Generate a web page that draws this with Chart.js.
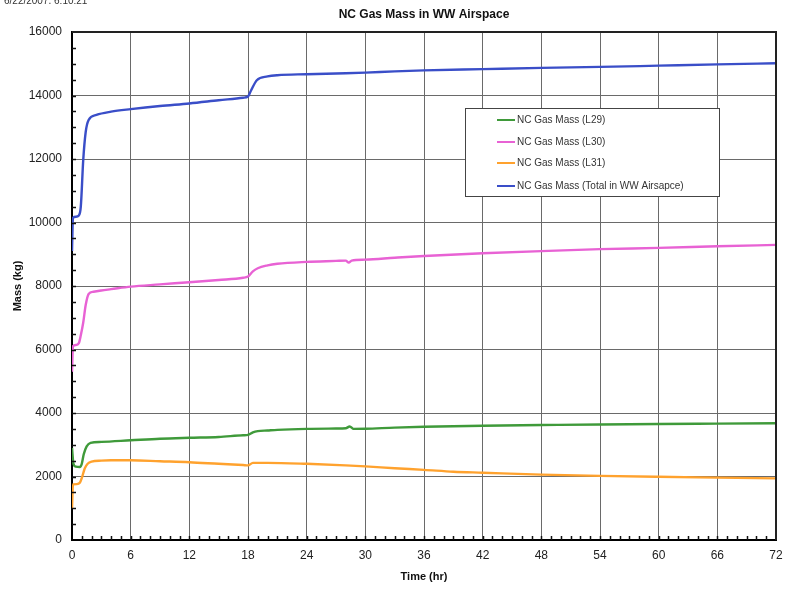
<!DOCTYPE html>
<html>
<head>
<meta charset="utf-8">
<script src="https://cdn.jsdelivr.net/npm/chart.js@4.4.1/dist/chart.umd.min.js"></script>
<style>
  html, body { margin: 0; padding: 0; background: #fff; }
  #wrap { width: 785px; height: 589px; position: relative; }
</style>
</head>
<body>
<div id="wrap"><canvas id="c" width="785" height="589"></canvas></div>
<script>
// ---- Data ----
const chartTitle = "NC Gas Mass in WW Airspace";
const stampText = "6/22/2007. 6:10:21";
const xTitle = "Time (hr)";
const yTitle = "Mass (kg)";
const xTicks = [0, 6, 12, 18, 24, 30, 36, 42, 48, 54, 60, 66, 72];
const yTicks = [0, 2000, 4000, 6000, 8000, 10000, 12000, 14000, 16000];

const labels = ["NC Gas Mass (L29)", "NC Gas Mass (L30)", "NC Gas Mass (L31)", "NC Gas Mass (Total in WW Airsapce)"];

const timeL29 = [0, 0.15, 0.4, 0.8, 1.0, 1.2, 1.5, 1.9, 3, 6, 9, 12, 15, 17.5, 18, 18.5, 19, 20, 21, 24, 27, 28, 28.4, 28.8, 30, 33, 36, 42, 48, 54, 60, 66, 72];
const massL29 = [2900, 2400, 2310, 2300, 2400, 2700, 2950, 3060, 3090, 3140, 3190, 3220, 3245, 3300, 3310, 3390, 3430, 3450, 3470, 3500, 3510, 3520, 3575, 3500, 3505, 3540, 3565, 3600, 3620, 3640, 3655, 3665, 3675];

const timeL30 = [0, 0.1, 0.4, 0.7, 0.9, 1.15, 1.4, 1.7, 2.2, 3, 4, 6, 9, 12, 15, 17.5, 18, 18.5, 19, 20, 21, 24, 27, 28, 28.3, 28.6, 30, 33, 36, 42, 48, 54, 60, 66, 72];
const massL30 = [5300, 6100, 6140, 6200, 6450, 6850, 7400, 7750, 7820, 7860, 7900, 7980, 8050, 8120, 8190, 8260, 8300, 8460, 8560, 8650, 8700, 8760, 8790, 8800, 8740, 8800, 8830, 8890, 8945, 9030, 9100, 9160, 9200, 9250, 9295];

const timeL31 = [0, 0.1, 0.5, 0.8, 1.0, 1.3, 1.6, 2, 3, 4, 6, 9, 12, 15, 17.5, 18, 18.5, 20, 24, 28, 30, 33, 36, 39, 42, 48, 54, 60, 66, 72];
const massL31 = [1000, 1750, 1760, 1800, 1950, 2250, 2400, 2470, 2500, 2510, 2510, 2480, 2450, 2400, 2360, 2350, 2430, 2430, 2400, 2350, 2320, 2260, 2210, 2150, 2120, 2060, 2020, 1990, 1965, 1940];

const timeTotal = [0, 0.1, 0.4, 0.7, 0.9, 1.15, 1.4, 1.7, 2.5, 4, 6, 9, 12, 15, 17.5, 18, 18.3, 18.9, 20, 21, 24, 28, 30, 33, 36, 42, 48, 54, 60, 66, 72];
const massTotal = [9100, 10150, 10180, 10220, 10500, 11970, 12850, 13230, 13390, 13490, 13570, 13670, 13750, 13850, 13930, 13970, 14150, 14480, 14600, 14640, 14670, 14700, 14720, 14760, 14790, 14830, 14870, 14900, 14940, 14980, 15015];

const colors = ["#3f9a3a", "#e862d4", "#ffa22e", "#3a4ec8"];

function pts(t, v) { return t.map((x, i) => ({ x: x, y: v[i] })); }
const series = [pts(timeL29, massL29), pts(timeL30, massL30), pts(timeL31, massL31), pts(timeTotal, massTotal)];

const FONT = "'Liberation Sans', Arial, sans-serif";

const decor = {
  id: 'decor',
  beforeDraw(chart) {
    const ctx = chart.ctx;
    ctx.save();
    ctx.fillStyle = '#ffffff';
    ctx.fillRect(0, 0, chart.width, chart.height);
    ctx.restore();
  },
  afterDraw(chart) {
    const ctx = chart.ctx;
    const a = chart.chartArea;
    const xs = chart.scales.x, ys = chart.scales.y;
    ctx.save();
    // top/right border
    ctx.strokeStyle = '#222';
    ctx.lineWidth = 2;
    ctx.beginPath();
    ctx.moveTo(a.left, a.top); ctx.lineTo(a.right, a.top); ctx.lineTo(a.right, a.bottom);
    ctx.stroke();
    // minor ticks
    ctx.strokeStyle = '#111';
    ctx.lineWidth = 1.5;
    ctx.beginPath();
    for (let t = 1; t < 72; t++) {
      const px = Math.round(xs.getPixelForValue(t)) + 0.5;
      ctx.moveTo(px, a.bottom); ctx.lineTo(px, a.bottom - 4);
    }
    for (let v = 500; v < 16000; v += 500) {
      const py = Math.round(ys.getPixelForValue(v)) + 0.5;
      ctx.moveTo(a.left, py); ctx.lineTo(a.left + 4, py);
    }
    ctx.stroke();
    // title
    ctx.fillStyle = '#111';
    ctx.font = "bold 12px " + FONT;
    ctx.textAlign = 'center';
    ctx.textBaseline = 'middle';
    ctx.fillText(chartTitle, (a.left + a.right) / 2, 15);
    // timestamp (cut at top)
    ctx.font = "10px " + FONT;
    ctx.textAlign = 'left';
    ctx.textBaseline = 'alphabetic';
    ctx.fillStyle = '#333';
    ctx.fillText(stampText, 4, 4);
    // axis titles
    ctx.fillStyle = '#111';
    ctx.font = "bold 11px " + FONT;
    ctx.textAlign = 'center';
    ctx.textBaseline = 'middle';
    ctx.fillText(xTitle, (a.left + a.right) / 2, 577);
    ctx.save();
    ctx.translate(18, (a.top + a.bottom) / 2);
    ctx.rotate(-Math.PI / 2);
    ctx.fillText(yTitle, 0, 0);
    ctx.restore();
    // legend
    const lx = 465, ly = 108, lw = 254, lh = 88;
    ctx.fillStyle = '#fff';
    ctx.fillRect(lx, ly, lw, lh);
    ctx.strokeStyle = '#444';
    ctx.lineWidth = 1;
    ctx.strokeRect(lx + 0.5, ly + 0.5, lw, lh);
    const rows = [120, 142, 163, 186];
    ctx.font = "10px " + FONT;
    ctx.textAlign = 'left';
    ctx.textBaseline = 'middle';
    labels.forEach((lab, i) => {
      ctx.strokeStyle = colors[i];
      ctx.lineWidth = 2;
      ctx.beginPath();
      ctx.moveTo(497, rows[i]); ctx.lineTo(515, rows[i]);
      ctx.stroke();
      ctx.fillStyle = '#333';
      ctx.fillText(lab, 517, rows[i] + 0.5);
    });
    ctx.restore();
  }
};

new Chart(document.getElementById('c'), {
  type: 'line',
  data: {
    datasets: series.map((d, i) => ({
      label: labels[i],
      data: d,
      borderColor: colors[i],
      backgroundColor: colors[i],
      borderWidth: 2.4,
      pointRadius: 0,
      cubicInterpolationMode: 'monotone',
      fill: false
    }))
  },
  options: {
    responsive: false,
    animation: false,
    layout: { padding: { left: 0, right: 9, top: 32, bottom: 0 } },
    plugins: { legend: { display: false }, title: { display: false }, tooltip: { enabled: false } },
    scales: {
      x: {
        type: 'linear',
        min: 0, max: 72,
        afterBuildTicks(s) { s.ticks = xTicks.map(v => ({ value: v })); },
        afterFit(s) { s.height = 49; s.paddingLeft = 0; s.paddingRight = 0; },
        grid: { color: '#6a6a6a', lineWidth: 1, drawTicks: false },
        border: { color: '#000', width: 2 },
        ticks: { padding: 8, color: '#222', font: { family: FONT, size: 12 }, maxRotation: 0 }
      },
      y: {
        type: 'linear',
        min: 0, max: 16000,
        afterBuildTicks(s) { s.ticks = yTicks.map(v => ({ value: v })); },
        afterFit(s) { s.width = 72; s.paddingTop = 0; s.paddingBottom = 0; },
        grid: { color: '#6a6a6a', lineWidth: 1, drawTicks: false },
        border: { color: '#000', width: 2 },
        ticks: { padding: 10, color: '#222', font: { family: FONT, size: 12 }, callback: v => String(v) }
      }
    }
  },
  plugins: [decor]
});
</script>
</body>
</html>
